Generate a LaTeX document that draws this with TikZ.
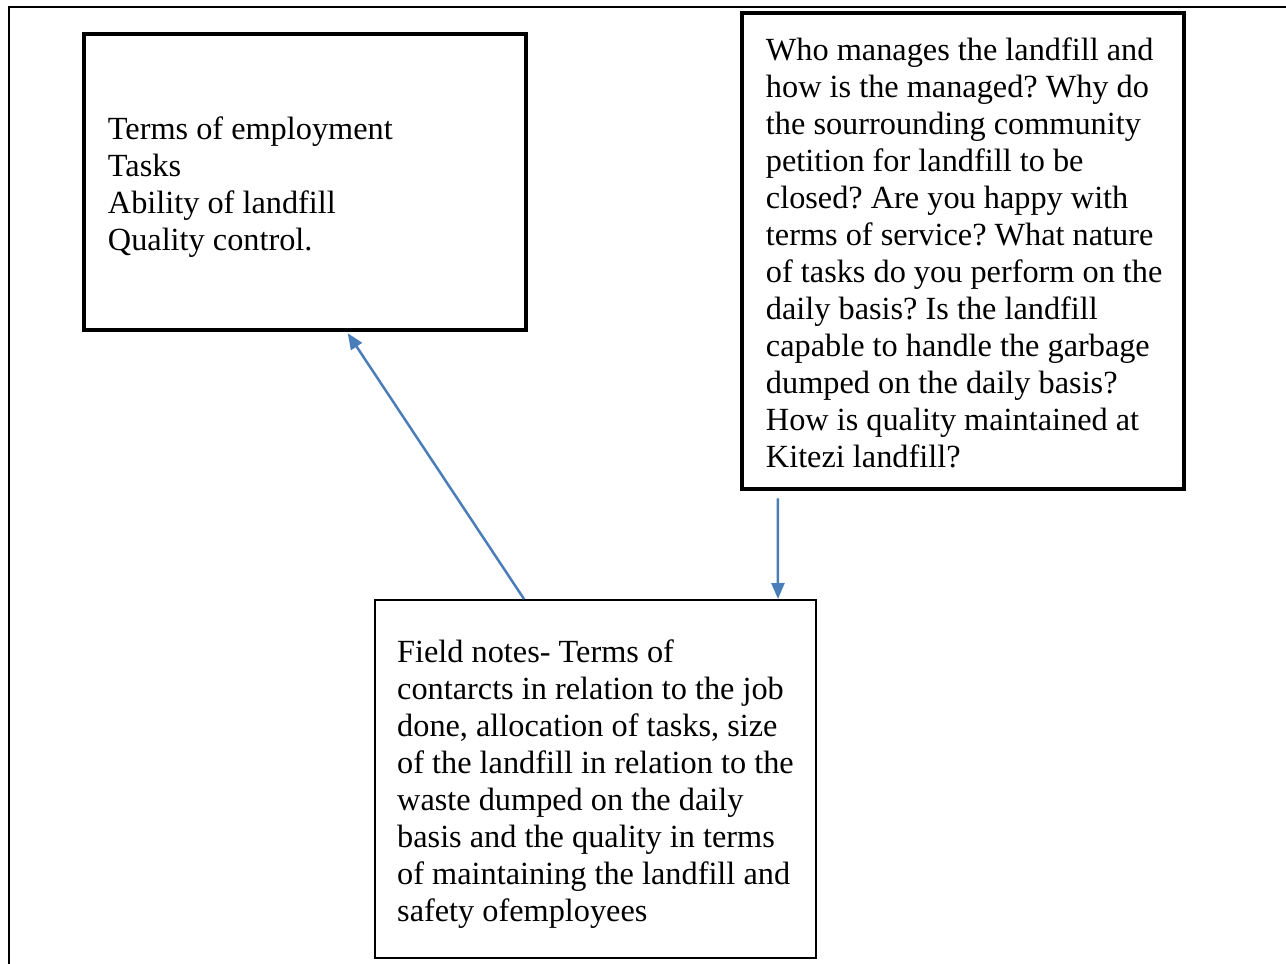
\documentclass[tikz,border=0pt]{standalone}
\usepackage{fontspec}
\setmainfont{Liberation Serif}
\usepackage{tikz}
\usetikzlibrary{positioning, calc, arrows.meta}
\frenchspacing

\begin{document}
\begin{tikzpicture}[x=1pt, y=-1pt]
\tikzstyle{notebox}=[draw, line width=4.5pt, minimum width=442pt]
\tikzstyle{notetext}=[anchor=west, inner sep=0pt, align=left,
font=\fontsize{32.3}{37}\selectfont]
\tikzstyle{link}=[draw={rgb,255:red,74;green,126;blue,187}, line width=2.5pt,
-{Triangle[length=16pt, width=13pt]}]

\useasboundingbox (0,0) rectangle (1286,964);

% page frame
\draw[line width=2.5pt] (9,964) -- (9,7) -- (1286,7);

% boxes
\node (terms) [notebox, minimum height=296pt] at (305,182) {};
\node (questions) [notebox, minimum height=476pt] at (963,251) {};
\node (fieldnotes) [notebox, line width=2pt, minimum width=441pt, minimum height=358pt] at (595.5,779) {};

% texts
\node (termstext) [notetext] at ([xshift=26pt, yshift=-5pt]terms.west)
{Terms of employment\\Tasks\\Ability of landfill\\Quality control.};
\node (questionstext) [notetext] at ([xshift=26pt, yshift=-2pt]questions.west)
{Who manages the landfill and\\how is the managed? Why do\\the sourrounding community\\petition for landfill to be\\closed? Are you happy with\\terms of service? What nature\\of tasks do you perform on the\\daily basis? Is the landfill\\capable to handle the garbage\\dumped on the daily basis?\\How is quality maintained at\\Kitezi landfill?};
\node (fieldnotestext) [notetext] at ([xshift=23pt, yshift=-5pt]fieldnotes.west)
{Field notes- Terms of\\contarcts in relation to the job\\done, allocation of tasks, size\\of the landfill in relation to the\\waste dumped on the daily\\basis and the quality in terms\\of maintaining the landfill and\\safety ofemployees};

% connections
\draw[link] ([xshift=150pt]fieldnotes.north west) -- ([xshift=266pt, yshift=-1pt]terms.south west);
\draw[link] ([xshift=38pt, yshift=-7pt]questions.south west) -- ([xshift=404pt]fieldnotes.north west);

\end{tikzpicture}
\end{document}
